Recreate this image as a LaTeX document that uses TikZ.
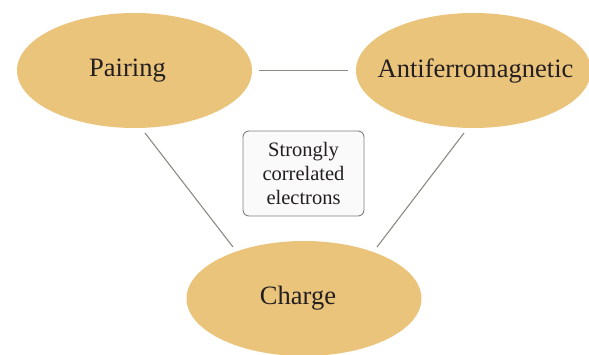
\documentclass[tikz,border=0pt]{standalone}
\usepackage{fontspec}
\setmainfont{Liberation Serif}
\usetikzlibrary{shapes.geometric}
\definecolor{ellfill}{RGB}{235,196,124}
\definecolor{linegray}{RGB}{140,138,130}
\definecolor{boxborder}{RGB}{128,128,128}
\definecolor{boxfill}{RGB}{250,250,250}
\definecolor{txt}{RGB}{35,31,32}
\tikzset{
  topic/.style={ellipse, fill=ellfill, draw=none, minimum width=235pt, minimum height=115pt, inner sep=0pt},
  topiclabel/.style={font=\fontsize{26.5}{30}\selectfont, text=txt, inner sep=0pt},
  link/.style={draw=linegray, line width=1.1pt},
  centerbox/.style={draw=boxborder, fill=boxfill, rounded corners=6pt, line width=0.9pt, minimum width=121pt, minimum height=85pt, align=center, font=\fontsize{20.5}{24}\selectfont, text=txt, inner sep=0pt}
}
\begin{document}
\begin{tikzpicture}[x=1pt,y=-1pt]
\useasboundingbox (0,0) rectangle (589,355);
\node[topic] (pair) at (134.5,70.5) {};
\node[topic] (afm) at (473.5,70.5) {};
\node[topic] (charge) at (304,298.5) {};
\node[topiclabel] (pairtxt) at (127.5,71) {Pairing};
\node[topiclabel] (afmtxt) at (475.5,71) {Antiferromagnetic};
\node[topiclabel] (chargetxt) at (298,298) {Charge};
\node[centerbox] (core) at (303.5,173.5) {Strongly\\correlated\\electrons};
\draw[link] ([shift={(124.5,0)}]pair.center) -- ([shift={(-125.5,0)}]afm.center);
\draw[link] ([shift={(10.5,62.5)}]pair.center) -- ([shift={(-71,-51.5)}]charge.center);
\draw[link] ([shift={(-9.5,62.5)}]afm.center) -- ([shift={(73,-51.5)}]charge.center);
\end{tikzpicture}
\end{document}
